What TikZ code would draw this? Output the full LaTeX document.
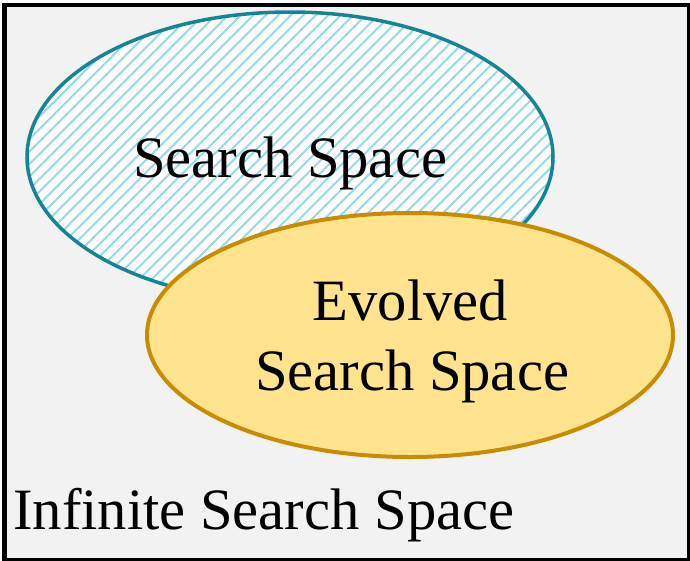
\documentclass[tikz,border=0pt]{standalone}
\usepackage{fontspec}
\setmainfont{Liberation Serif}
\newfontfamily\timesf{Liberation Serif}
\usetikzlibrary{shapes.geometric}
\definecolor{bgray}{RGB}{242,242,242}
\definecolor{tealc}{RGB}{18,134,152}
\definecolor{hatchc}{RGB}{150,216,234}
\definecolor{goldc}{RGB}{200,140,0}
\definecolor{goldfill}{RGB}{255,227,143}
\begin{document}
\begin{tikzpicture}[x=1pt,y=-1pt,
  lbl/.style={font=\timesf\fontsize{58.6}{70}\selectfont, inner sep=0pt, anchor=base},
  hatchline/.style={hatchc, line width=2pt}]
\useasboundingbox (0,0) rectangle (690,560);
\node[draw=black, line width=4.5pt, fill=bgray, minimum width=684.5pt, minimum height=555pt, inner sep=0pt, anchor=north west] (frame) at (2,2.5) {};
% search space (hatched)
\fill[white] (290,157) ellipse [x radius=263pt, y radius=145pt];
\begin{scope}
  \clip (290,157) ellipse [x radius=263pt, y radius=145pt];
  \foreach \k in {8,...,64} \draw[hatchline] ({6+12.5*\k-330},330) -- ({6+12.5*\k},0);
\end{scope}
\node[ellipse, draw=tealc, line width=3.5pt, minimum width=526pt, minimum height=290pt, inner sep=0pt] (ss) at (290,157) {};
% evolved search space
\node[ellipse, draw=goldc, fill=goldfill, line width=4pt, minimum width=526pt, minimum height=244pt, inner sep=0pt] (ess) at (410,335) {};
% labels
\node[lbl] (t1) at (290,177) {Search Space};
\node[lbl] (t2) at (410.5,320) {Evolved};
\node[lbl] (t3) at (412,390) {Search Space};
\node[lbl, anchor=base west] (t4) at (13,529) {Infinite Search Space};
\end{tikzpicture}
\end{document}
